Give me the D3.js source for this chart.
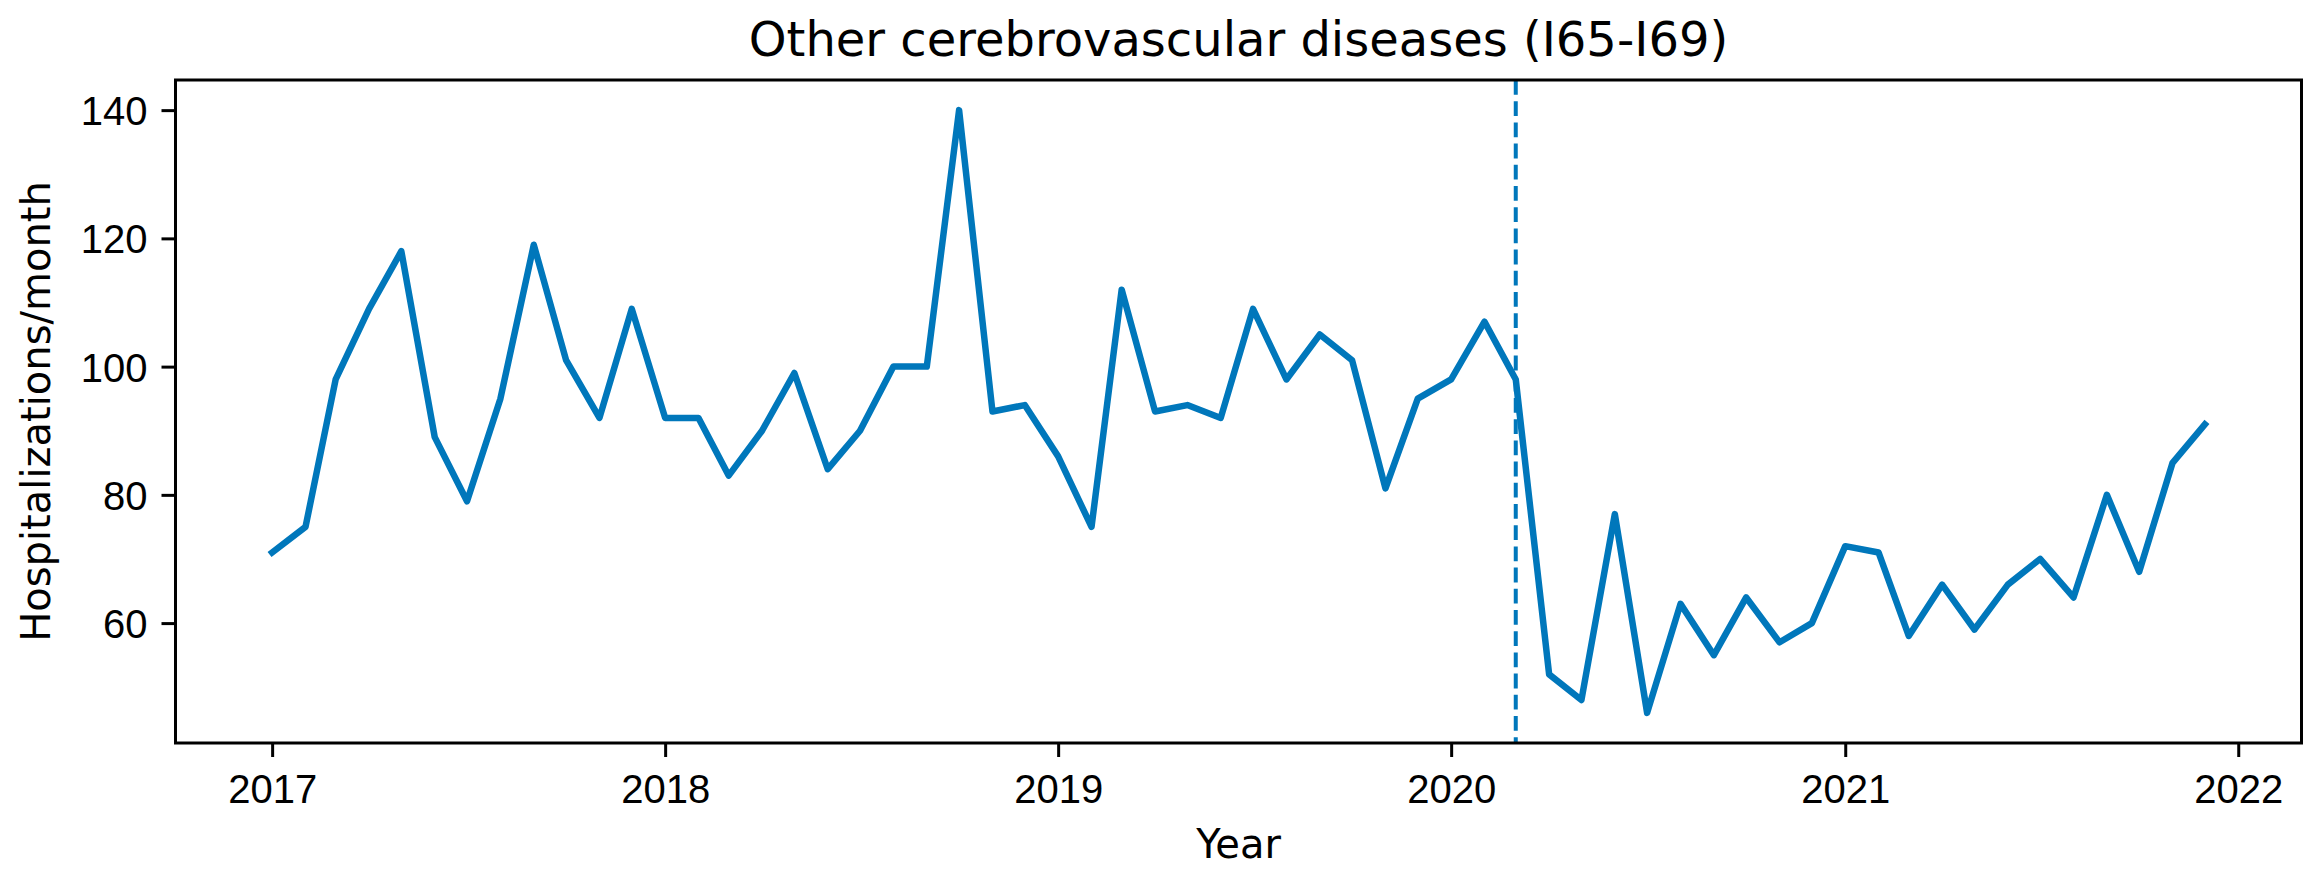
<!DOCTYPE html>
<html lang="en">
<head>
  <meta charset="UTF-8" />
  <title>Other cerebrovascular diseases (I65-I69)</title>
  <style>
    body {
      margin: 0;
      padding: 0;
      background: #fff;
    }

    svg {
      display: block;
      font-family: "DejaVu Sans", sans-serif;
    }

    .tick text {
      font-size: 40px;
      fill: #000;
    }

    .title {
      font-size: 48px;
    }

    .axis-label {
      font-size: 40px;
    }
  </style>
</head>
<body>

<svg id="chart" width="2317" height="877"></svg>

<script src="https://d3js.org/d3.v7.min.js"></script>
<script>
  // monthly hospitalizations, Jan 2017 .. Dec 2021
  const months = [
    "2017-01", "2017-02", "2017-03", "2017-04", "2017-05", "2017-06", "2017-07", "2017-08", "2017-09", "2017-10", "2017-11", "2017-12",
    "2018-01", "2018-02", "2018-03", "2018-04", "2018-05", "2018-06", "2018-07", "2018-08", "2018-09", "2018-10", "2018-11", "2018-12",
    "2019-01", "2019-02", "2019-03", "2019-04", "2019-05", "2019-06", "2019-07", "2019-08", "2019-09", "2019-10", "2019-11", "2019-12",
    "2020-01", "2020-02", "2020-03", "2020-04", "2020-05", "2020-06", "2020-07", "2020-08", "2020-09", "2020-10", "2020-11", "2020-12",
    "2021-01", "2021-02", "2021-03", "2021-04", "2021-05", "2021-06", "2021-07", "2021-08", "2021-09", "2021-10", "2021-11", "2021-12"
  ];

  const hospitalizations = [
    71, 75, 98, 109, 118, 89, 79, 95, 119, 101, 92, 109,
    92, 92, 83, 90, 99, 84, 90, 100, 100, 140, 93, 94,
    86, 75, 112, 93, 94, 92, 109, 98, 105, 101, 81, 95,
    98, 107, 98, 52, 48, 77, 46, 63, 55, 64, 57, 60,
    72, 71, 58, 66, 59, 66, 70, 64, 80, 68, 85, 91
  ];

  const yearTicks = ["2017", "2018", "2019", "2020", "2021", "2022"];
  const yTicks = [60, 80, 100, 120, 140];
  const cutoffDate = "2020-03";

  const titleText = "Other cerebrovascular diseases (I65-I69)";
  const xLabel = "Year";
  const yLabel = "Hospitalizations/month";

  const parseMonth = d3.utcParse("%Y-%m");
  const parseYear = d3.utcParse("%Y");

  const data = months.map((m, i) => ({ date: parseMonth(m), value: hospitalizations[i] }));

  const svg = d3.select("#chart");
  const margin = { top: 80, right: 15.5, bottom: 134, left: 175.5 };
  const width = +svg.attr("width");
  const height = +svg.attr("height");
  const lineColor = "#0077bb";

  // matplotlib style 5% padding on both axes
  const [t0, t1] = d3.extent(data, d => d.date);
  const tPad = (t1 - t0) * 0.05;
  const [v0, v1] = d3.extent(data, d => d.value);
  const vPad = (v1 - v0) * 0.05;

  const x = d3.scaleUtc()
    .domain([new Date(+t0 - tPad), new Date(+t1 + tPad)])
    .range([margin.left, width - margin.right]);

  const y = d3.scaleLinear()
    .domain([v0 - vPad, v1 + vPad])
    .range([height - margin.bottom, margin.top]);

  // axes
  const xAxis = svg.append("g")
    .attr("transform", `translate(0,${height - margin.bottom})`)
    .call(d3.axisBottom(x)
      .tickValues(yearTicks.map(parseYear))
      .tickFormat(d3.utcFormat("%Y"))
      .tickSize(14)
      .tickPadding(12));

  const yAxis = svg.append("g")
    .attr("transform", `translate(${margin.left},0)`)
    .call(d3.axisLeft(y)
      .tickValues(yTicks)
      .tickSize(14)
      .tickPadding(14));

  [xAxis, yAxis].forEach(g => {
    g.select(".domain").remove();
    g.selectAll(".tick line").attr("stroke", "#000").attr("stroke-width", 3);
  });
  xAxis.selectAll(".tick text").attr("dy", "0.86em");
  yAxis.selectAll(".tick text").attr("dy", "0.36em");

  // cutoff line
  svg.append("line")
    .attr("x1", x(parseMonth(cutoffDate)))
    .attr("x2", x(parseMonth(cutoffDate)))
    .attr("y1", margin.top)
    .attr("y2", height - margin.bottom)
    .attr("stroke", lineColor)
    .attr("stroke-width", 4)
    .attr("stroke-dasharray", "14.8,6.4");

  // series
  svg.append("path")
    .datum(data)
    .attr("fill", "none")
    .attr("stroke", lineColor)
    .attr("stroke-width", 6.5)
    .attr("stroke-linejoin", "round")
    .attr("stroke-linecap", "square")
    .attr("d", d3.line().x(d => x(d.date)).y(d => y(d.value)));

  // frame
  svg.append("rect")
    .attr("x", margin.left)
    .attr("y", margin.top)
    .attr("width", width - margin.left - margin.right)
    .attr("height", height - margin.top - margin.bottom)
    .attr("fill", "none")
    .attr("stroke", "#000")
    .attr("stroke-width", 3);

  svg.append("text")
    .attr("class", "title")
    .attr("x", (margin.left + width - margin.right) / 2)
    .attr("y", 56)
    .attr("text-anchor", "middle")
    .text(titleText);

  svg.append("text")
    .attr("class", "axis-label")
    .attr("x", (margin.left + width - margin.right) / 2)
    .attr("y", 858)
    .attr("text-anchor", "middle")
    .text(xLabel);

  svg.append("text")
    .attr("class", "axis-label")
    .attr("transform", `translate(50,${(margin.top + height - margin.bottom) / 2}) rotate(-90)`)
    .attr("text-anchor", "middle")
    .text(yLabel);
</script>
</body>
</html>
